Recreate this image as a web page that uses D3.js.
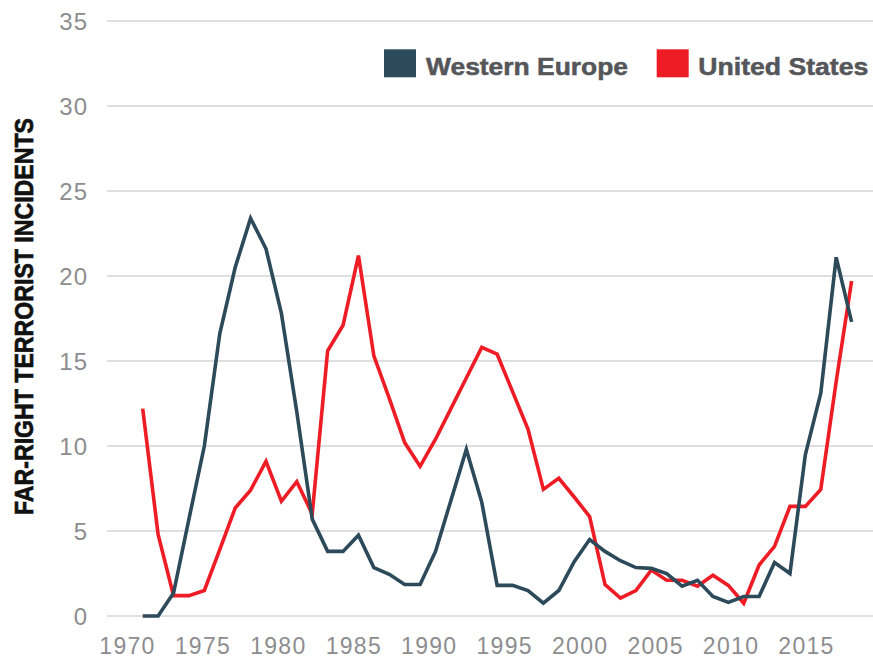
<!DOCTYPE html>
<html>
<head>
<meta charset="utf-8">
<script src="https://cdn.jsdelivr.net/npm/d3@7"></script>
<style>
  html, body { margin: 0; padding: 0; background: #ffffff; }
  svg { display: block; }
</style>
</head>
<body>
<svg id="chart" width="873" height="659"></svg>
<script>
// ---- data (GTD has no 1993, so that year is absent) ----
const years = [1971,1972,1973,1974,1975,1976,1977,1978,1979,1980,1981,1982,1983,1984,1985,1986,1987,1988,1989,1990,1991,1992,
               1994,1995,1996,1997,1998,1999,2000,2001,2002,2003,2004,2005,2006,2007,2008,2009,2010,2011,2012,2013,2014,2015,2016,2017,2018];
const westernEurope = [0,0,1.35,5.7,10,16.6,20.5,23.4,21.6,17.8,12.0,5.7,3.8,3.8,4.75,2.85,2.45,1.85,1.85,3.8,6.8,9.8,
                       6.7,1.8,1.8,1.5,0.75,1.5,3.2,4.5,3.8,3.25,2.85,2.8,2.5,1.75,2.1,1.15,0.8,1.15,1.15,3.15,2.5,9.5,13.1,21.1,17.3];
const unitedStates = [12.2,4.8,1.2,1.2,1.5,3.9,6.35,7.4,9.1,6.75,7.9,6.0,15.6,17.1,21.2,15.3,12.8,10.2,8.8,10.4,12.2,14.0,
                      15.8,15.4,13.2,11.0,7.45,8.1,7.0,5.85,1.85,1.05,1.5,2.7,2.1,2.1,1.75,2.4,1.8,0.75,3.0,4.1,6.45,6.45,7.45,13.8,19.7];
const yTicks = [0,5,10,15,20,25,30,35];
const xTickYears = [1970,1975,1980,1985,1990,1995,2000,2005,2010,2015];
const seriesNames = ["Western Europe", "United States"];
const seriesColors = ["#2c4a5a", "#ee1c25"];
const yTitle = "FAR-RIGHT TERRORIST INCIDENTS";

// ---- layout ----
const svg = d3.select("#chart");
const gridLeft = 107, gridRight = 873;
const y = d3.scaleLinear().domain([0, 35]).range([616, 21]);
const x = d3.scalePoint().domain(years).range([142.7, 851.6]);
const xLabel = d3.scaleLinear().domain([1970, 2015]).range([127.5, 806.5]);

// gridlines
svg.append("g").selectAll("line").data(yTicks).join("line")
  .attr("x1", gridLeft).attr("x2", gridRight)
  .attr("y1", d => y(d)).attr("y2", d => y(d))
  .attr("stroke", "#d5d5d7").attr("stroke-width", 1.5);

// y tick labels
svg.append("g").selectAll("text").data(yTicks).join("text")
  .attr("x", 88).attr("y", d => y(d)).attr("dy", "0.36em")
  .attr("text-anchor", "end")
  .attr("font-family", "'Liberation Sans', Arial, sans-serif")
  .attr("font-size", 24).attr("letter-spacing", 1)
  .attr("fill", "#8d8d8f")
  .text(d => d);

// x tick labels
svg.append("g").selectAll("text").data(xTickYears).join("text")
  .attr("x", d => xLabel(d)).attr("y", 654)
  .attr("text-anchor", "middle")
  .attr("font-family", "'Liberation Sans', Arial, sans-serif")
  .attr("font-size", 23).attr("letter-spacing", 1.3)
  .attr("fill", "#8d8d8f")
  .text(d => d);

// y axis title
svg.append("text")
  .attr("transform", "translate(33,316.5) rotate(-90)")
  .attr("text-anchor", "middle")
  .attr("font-family", "'Liberation Sans Narrow', 'Liberation Sans', Arial, sans-serif")
  .attr("font-weight", "bold").attr("font-size", 26)
  .attr("textLength", 397).attr("lengthAdjust", "spacingAndGlyphs")
  .attr("fill", "#111111").attr("stroke", "#111111").attr("stroke-width", 0.7)
  .text(yTitle);

// lines
const line = vals => d3.line().x((d, i) => x(years[i])).y(d => y(d)).curve(d3.curveLinear)(vals);
const series = [westernEurope, unitedStates];
svg.append("g").selectAll("path").data([1, 0]).join("path")
  .attr("d", i => line(series[i]))
  .attr("fill", "none")
  .attr("stroke", i => seriesColors[i])
  .attr("stroke-width", 3.6)
  .attr("stroke-linejoin", "miter")
  .attr("stroke-linecap", "butt");

// legend
const legendSquareX = [384, 656.7];
const legendTextX = [426, 698.3];
const legendTextW = [202, 170];
const lg = svg.append("g");
lg.selectAll("rect").data(seriesNames).join("rect")
  .attr("x", (d, i) => legendSquareX[i]).attr("y", 49.3)
  .attr("width", 32).attr("height", 28)
  .attr("fill", (d, i) => seriesColors[i]);
lg.selectAll("text").data(seriesNames).join("text")
  .attr("x", (d, i) => legendTextX[i]).attr("y", 75)
  .attr("font-family", "'Liberation Sans', Arial, sans-serif")
  .attr("font-weight", "bold").attr("font-size", 23)
  .attr("textLength", (d, i) => legendTextW[i]).attr("lengthAdjust", "spacingAndGlyphs")
  .attr("fill", "#55565a").attr("stroke", "#55565a").attr("stroke-width", 0.5)
  .text(d => d);
</script>
</body>
</html>
